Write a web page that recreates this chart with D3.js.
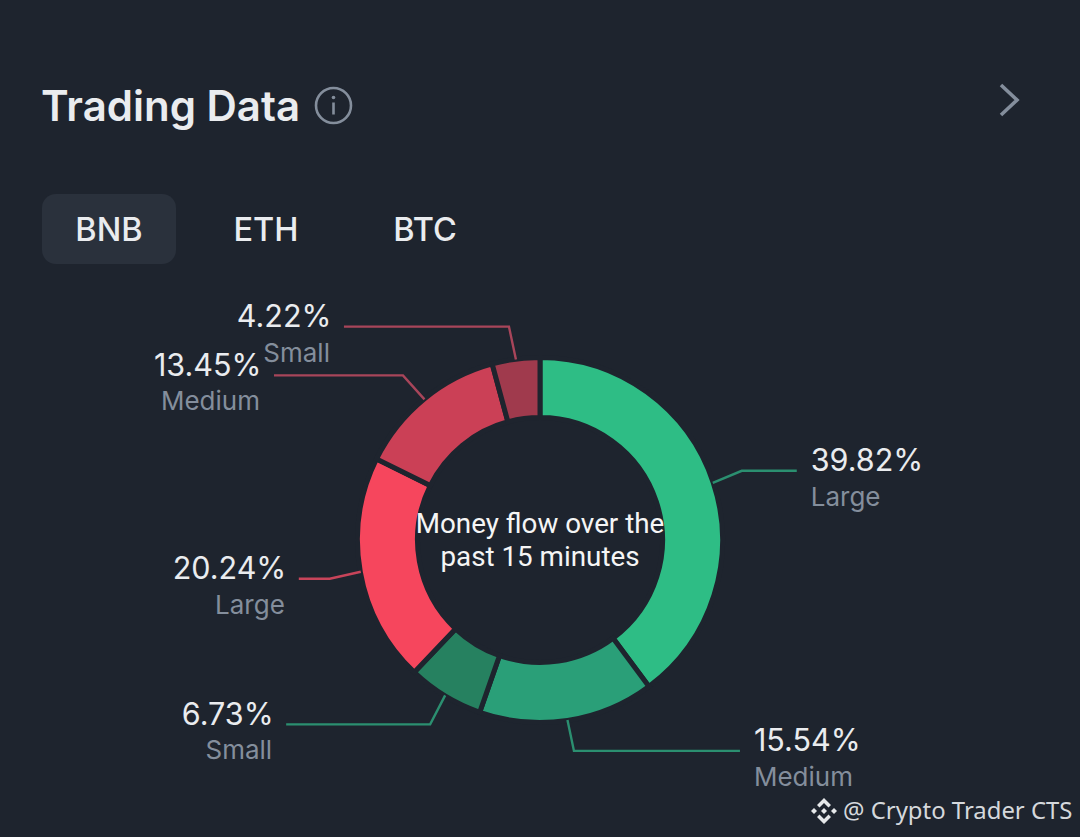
<!DOCTYPE html>
<html>
<head>
<meta charset="utf-8">
<script src="https://cdn.jsdelivr.net/npm/d3@7"></script>
<style>
  html, body { margin: 0; padding: 0; background: #1e242e; }
  svg { display: block; }
  text { font-family: Inter, sans-serif; }
</style>
</head>
<body>
<svg id="chart" width="1080" height="837"></svg>
<script>
'use strict'

var sizes = ['Large', 'Medium', 'Small', 'Large', 'Medium', 'Small'];
var shares = [39.82, 15.54, 6.73, 20.24, 13.45, 4.22];
var sliceColors = ['#2ebd85', '#2a9f78', '#268160', '#f6465d', '#cb4056', '#a03a4d'];
var lineColors = ['#2b8f70', '#2b8f70', '#2b8f70', '#c8445a', '#a8455a', '#a8455a'];
var tabs = ['BNB', 'ETH', 'BTC'];
var tabCentres = [109, 266, 425];

// leader line: elbow offset from the slice edge, then horizontal run
var elbowDx = [29, 6.5, -15, -31, -21.5, -7];
var elbowDy = [-12, 31, 29, 7, -24, -33];
var runs = [55, 166, -144, -31, -129, -165];

var svg = d3.select('#chart');
var cx = 540, cy = 540;
var outer = 182.5, inner = 122.5;

// header
svg.append('text')
    .attr('x', 41).attr('y', 121)
    .attr('fill', '#eaecef')
    .style('font-size', '42px').style('font-weight', 600)
    .text('Trading Data');

var info = svg.append('g').attr('transform', 'translate(333.5,105.5)');
info.append('circle').attr('r', 17.5).attr('fill', 'none').attr('stroke', '#848e9c').attr('stroke-width', 2.6);
info.append('circle').attr('cy', -8).attr('r', 1.8).attr('fill', '#848e9c');
info.append('line').attr('y1', -3).attr('y2', 9).attr('stroke', '#848e9c').attr('stroke-width', 2.6);

svg.append('path')
    .attr('d', 'M1001,85L1017,100L1001,115')
    .attr('fill', 'none').attr('stroke', '#848e9c').attr('stroke-width', 3.6);

// tabs
svg.append('rect')
    .attr('x', 42).attr('y', 194).attr('width', 134).attr('height', 70).attr('rx', 14)
    .attr('fill', '#2a313c');

svg.selectAll('.tab').data(tabs).join('text')
    .classed('tab', true)
    .attr('x', function(d, i) { return tabCentres[i]; })
    .attr('y', 241)
    .attr('text-anchor', 'middle')
    .attr('fill', '#eaecef')
    .style('font-size', '32.5px').style('font-weight', 500)
    .text(function(d) { return d; });

// donut
var pie = d3.pie().sort(null).value(function(d) { return d; });
var arcs = pie(shares);
var arc = d3.arc().innerRadius(inner).outerRadius(outer);

var donut = svg.append('g').attr('transform', 'translate(' + cx + ',' + cy + ')');

donut.selectAll('path').data(arcs).join('path')
    .attr('d', arc)
    .attr('fill', function(d, i) { return sliceColors[i]; })
    .attr('stroke', '#1e242e')
    .attr('stroke-width', 5);

// leader lines
function anchor(d) {
  return d3.pointRadial((d.startAngle + d.endAngle) / 2, 182);
}

donut.selectAll('.leader').data(arcs).join('path')
    .classed('leader', true)
    .attr('fill', 'none')
    .attr('stroke', function(d, i) { return lineColors[i]; })
    .attr('stroke-width', 2.4)
    .attr('d', function(d, i) {
      var p = anchor(d);
      var ex = p[0] + elbowDx[i], ey = p[1] + elbowDy[i];
      return 'M' + p[0] + ',' + p[1] + 'L' + ex + ',' + ey + 'L' + (ex + runs[i]) + ',' + ey;
    });

// labels
function labelX(d, i) {
  var end = anchor(d)[0] + elbowDx[i] + runs[i];
  return runs[i] > 0 ? end + 14 : end - 14;
}
function labelY(d, i) {
  return anchor(d)[1] + elbowDy[i];
}

donut.selectAll('.share').data(arcs).join('text')
    .classed('share', true)
    .attr('x', function(d, i) { return labelX(d, i) + (runs[i] > 0 ? 0 : 1.5); })
    .attr('y', function(d, i) { return labelY(d, i) + 0.5; })
    .attr('text-anchor', function(d, i) { return runs[i] > 0 ? 'start' : 'end'; })
    .attr('fill', '#eaecef')
    .style('font-size', '30.5px')
    .text(function(d) { return d.value.toFixed(2) + '%'; });

donut.selectAll('.size').data(arcs).join('text')
    .classed('size', true)
    .attr('x', labelX)
    .attr('y', function(d, i) { return labelY(d, i) + 35; })
    .attr('text-anchor', function(d, i) { return runs[i] > 0 ? 'start' : 'end'; })
    .attr('fill', '#848e9c')
    .style('font-size', '26px')
    .text(function(d, i) { return sizes[i]; });

// centre text
var centre = ['Money flow over the', 'past 15 minutes'];
donut.selectAll('.centre').data(centre).join('text')
    .classed('centre', true)
    .attr('y', function(d, i) { return -7 + i * 33; })
    .attr('text-anchor', 'middle')
    .attr('fill', '#f5f5f5')
    .style('font-family', 'Roboto, sans-serif')
    .style('font-size', '27.8px')
    .text(function(d) { return d; });

// watermark
var logo = svg.append('g').attr('transform', 'translate(824,811)').attr('fill', '#e6e8ea');
logo.append('path').attr('d', 'M0,-13L7,-6L4.5,-3.5L0,-8L-4.5,-3.5L-7,-6Z');
logo.append('path').attr('d', 'M0,13L7,6L4.5,3.5L0,8L-4.5,3.5L-7,6Z');
logo.append('path').attr('d', 'M0,-3L3,0L0,3L-3,0Z');
logo.append('path').attr('d', 'M-10,-3L-7,0L-10,3L-13,0Z');
logo.append('path').attr('d', 'M10,-3L13,0L10,3L7,0Z');

svg.append('text')
    .attr('x', 843).attr('y', 819)
    .attr('fill', '#d5d8dc')
    .style('font-family', '"Noto Sans", sans-serif')
    .style('font-size', '23.9px')
    .text('@ Crypto Trader CTS');
</script>
</body>
</html>
